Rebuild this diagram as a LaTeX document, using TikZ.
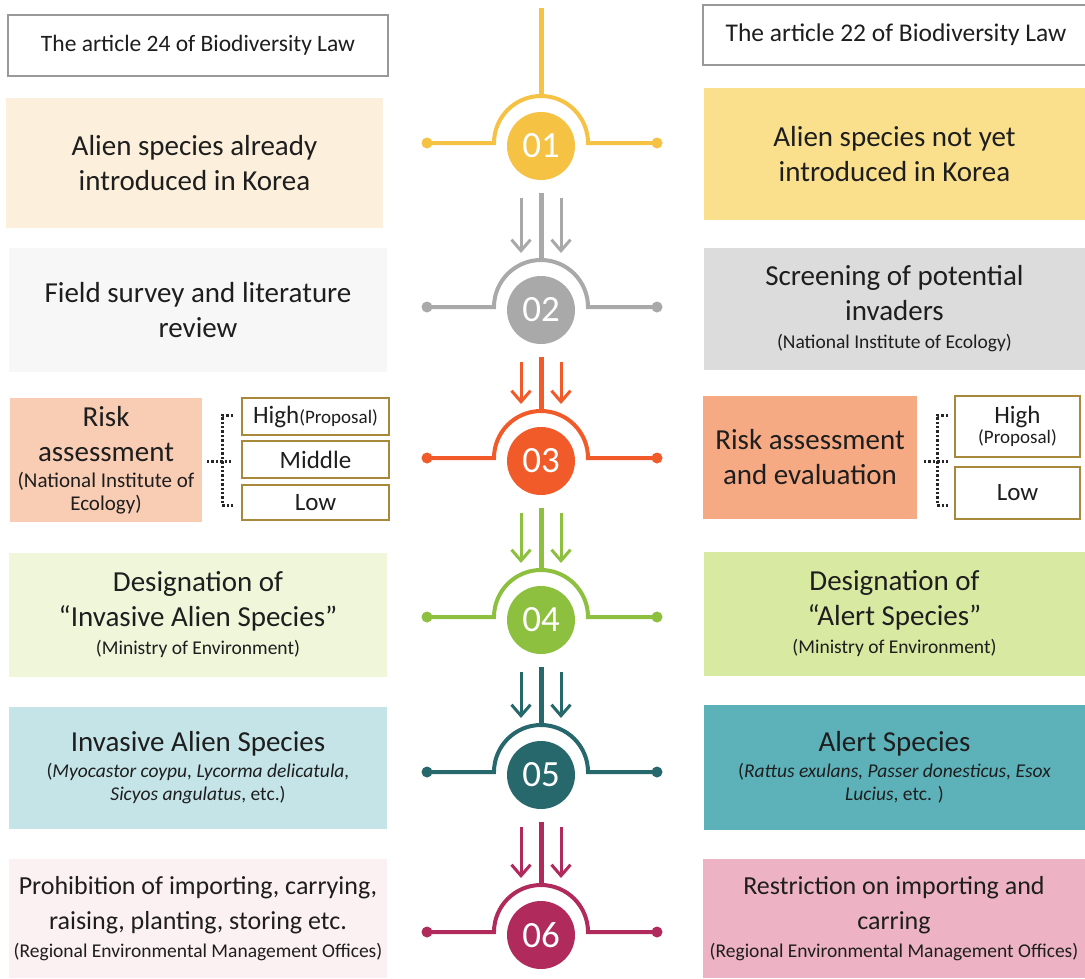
\documentclass[tikz,border=0pt]{standalone}
\usepackage{fontspec}
\setmainfont{Carlito}
\usetikzlibrary{arrows.meta}
\definecolor{txt}{HTML}{1E1E1E}
\definecolor{cyel}{HTML}{F6C243}
\definecolor{cgray}{HTML}{A9A9A9}
\definecolor{corange}{HTML}{F15A29}
\definecolor{cgreen}{HTML}{8DC03F}
\definecolor{cteal}{HTML}{27686D}
\definecolor{cred}{HTML}{B02A5B}
\definecolor{fLa}{HTML}{FCF0DC}
\definecolor{fLb}{HTML}{F7F7F7}
\definecolor{fLc}{HTML}{F9CDB4}
\definecolor{fLd}{HTML}{EFF6DA}
\definecolor{fLe}{HTML}{C4E4E7}
\definecolor{fLf}{HTML}{FBF0F2}
\definecolor{fRa}{HTML}{FAE08C}
\definecolor{fRb}{HTML}{DCDCDC}
\definecolor{fRc}{HTML}{F6AA84}
\definecolor{fRd}{HTML}{D8E9A2}
\definecolor{fRe}{HTML}{5DB2BA}
\definecolor{fRf}{HTML}{EDB3C5}
\definecolor{gold}{HTML}{A8883A}
\newcommand\subt[1]{{\fontsize{19.5}{23}\selectfont #1}}
\newcommand\subl[1]{{\fontsize{21}{24}\selectfont #1}}
\begin{document}
\begin{tikzpicture}[x=1pt,y=-1pt,
  box/.style={inner sep=0pt, align=center, text=txt, font=\fontsize{29}{35}\selectfont},
  smallbox/.style={box, font=\fontsize{26}{35}\selectfont},
  headbox/.style={draw=black!40, line width=1.5pt, fill=white, inner sep=0pt, text=txt},
  subbox/.style={draw=gold, line width=2pt, fill=white, inner sep=0pt, text=txt, align=center, font=\fontsize{25}{28}\selectfont},
  stepcirc/.style={circle, inner sep=0pt, minimum size=68pt, text=white, font=\fontsize{37}{37}\selectfont},
  stepline/.style={line width=4pt},
  stemline/.style={line width=5pt},
  arr/.style={line width=3pt, -{Straight Barb[length=11pt,width=19pt,line width=3pt]}},
  brk/.style={line width=3pt, dash pattern=on 2.4pt off 2pt, black!85}]
\useasboundingbox (0,0) rectangle (1085,978);
\fill[white] (0,0) rectangle (1085,978);

% headers
\node[headbox, minimum width=380pt, minimum height=61pt, font=\fontsize{23.5}{28}\selectfont] (hl) at (198,45.5) {The article 24 of Biodiversity Law};
\node[headbox, minimum width=386pt, minimum height=60pt, font=\fontsize{25.5}{30}\selectfont] (hr) at (896,35) {The article 22 of Biodiversity Law};

% left boxes
\node[box, fill=fLa, minimum width=377pt, minimum height=130pt] (L1) at (194.5,163) {Alien species already\\introduced in Korea};
\node[box, fill=fLb, minimum width=378pt, minimum height=124pt] (L2) at (198,310) {Field survey and literature\\review};
\node[box, fill=fLc, minimum width=192pt, minimum height=124pt] (L3) at (106,460) {Risk\\assessment\\[-9pt]\subl{(National Institute of}\\[-12pt]\subl{Ecology)}};
\node[box, fill=fLd, minimum width=378pt, minimum height=124pt] (L4) at (198,615) {Designation of\\“Invasive Alien Species”\\[-7pt]\subt{(Ministry of Environment)}};
\node[box, fill=fLe, minimum width=378pt, minimum height=122pt] (L5) at (198,768) {Invasive Alien Species\\[-9pt]\subt{(\textit{Myocastor coypu, Lycorma delicatula,}}\\[-12pt]\subt{\textit{Sicyos angulatus}, etc.)}};
\node[smallbox, fill=fLf, minimum width=378pt, minimum height=119pt] (L6) at (198,918.5) {Prohibition of importing, carrying,\\raising, planting, storing etc.\\[-7pt]\subt{(Regional Environmental Management Offices)}};

% right boxes
\node[box, fill=fRa, minimum width=381pt, minimum height=132pt] (R1) at (894.5,154) {Alien species not yet\\introduced in Korea};
\node[box, fill=fRb, minimum width=381pt, minimum height=122pt] (R2) at (894.5,309) {Screening of potential\\invaders\\[-7pt]\subt{(National Institute of Ecology)}};
\node[box, fill=fRc, minimum width=214pt, minimum height=123pt] (R3) at (810,457.5) {Risk assessment\\and evaluation};
\node[box, fill=fRd, minimum width=381pt, minimum height=124pt] (R4) at (894.5,614) {Designation of\\“Alert Species”\\[-7pt]\subt{(Ministry of Environment)}};
\node[box, fill=fRe, minimum width=381pt, minimum height=125pt] (R5) at (894.5,767.5) {Alert Species\\[-9pt]\subt{(\textit{Rattus exulans, Passer donesticus, Esox}}\\[-12pt]\subt{\textit{Lucius}, etc. )}};
\node[smallbox, fill=fRf, minimum width=382pt, minimum height=119pt] (R6) at (894,918.5) {Restriction on importing and\\carring\\[-7pt]\subt{(Regional Environmental Management Offices)}};

% left sub boxes
\node[subbox, minimum width=147pt, minimum height=37pt] (LH) at (315.5,416.5) {High{\fontsize{19}{22}\selectfont(Proposal)}};
\node[subbox, minimum width=147pt, minimum height=37pt] (LM) at (315.5,459.5) {Middle};
\node[subbox, minimum width=147pt, minimum height=35pt] (LL) at (315.5,502.5) {Low};
% right sub boxes
\node[subbox, minimum width=125pt, minimum height=61pt] (RH) at (1017.5,426.5) {High\\[-8pt]{\fontsize{19}{22}\selectfont(Proposal)}};
\node[subbox, minimum width=125pt, minimum height=52pt] (RL) at (1017.5,493) {Low};

% brackets
\coordinate (lbt) at (233,415); \coordinate (lbb) at (233,505);
\coordinate (lbm) at (233,461); \coordinate (lbs) at (207,461);
\draw[brk] (lbt) -- (222,415) -- (222,505) -- (lbb);
\draw[brk] (lbs) -- (lbm);
\coordinate (rbt) at (948,415); \coordinate (rbb) at (948,505);
\coordinate (rbm) at (948,461); \coordinate (rbs) at (924,461);
\draw[brk] (rbt) -- (937,415) -- (937,505) -- (rbb);
\draw[brk] (rbs) -- (rbm);

% steps
\foreach \i/\h/\col in {1/143/cyel, 2/307/cgray, 3/458/corange, 4/617/cgreen, 5/772/cteal, 6/932/cred} {
  \node[stepcirc, fill=\col] (c\i) at (541,\h+3) {0\i};
  \coordinate (al\i) at (494,\h);
  \coordinate (ar\i) at (588,\h);
  \coordinate (dl\i) at (427,\h);
  \coordinate (dr\i) at (657,\h);
  \coordinate (top\i) at (541,\h-47);
  \draw[stepline, \col] (dl\i) -- (al\i) arc[start angle=180, end angle=0, radius=47pt] -- (dr\i);
  \fill[\col] (dl\i) circle[radius=5.5pt] (dr\i) circle[radius=5.5pt];
}
\coordinate (s1) at (541,8);
\draw[stemline, cyel] (s1) -- (top1);
\foreach \i/\p/\h/\col in {2/143/307/cgray, 3/307/458/corange, 4/458/617/cgreen, 5/617/772/cteal, 6/772/932/cred} {
  \coordinate (s\i) at (541,\p+50);
  \coordinate (la\i) at (521,\p+55);
  \coordinate (lb\i) at (521,\h-54);
  \coordinate (ra\i) at (561,\p+55);
  \coordinate (rb\i) at (561,\h-54);
  \draw[stemline, \col] (s\i) -- (top\i);
  \draw[arr, \col] (la\i) -- (lb\i);
  \draw[arr, \col] (ra\i) -- (rb\i);
}
\end{tikzpicture}
\end{document}
